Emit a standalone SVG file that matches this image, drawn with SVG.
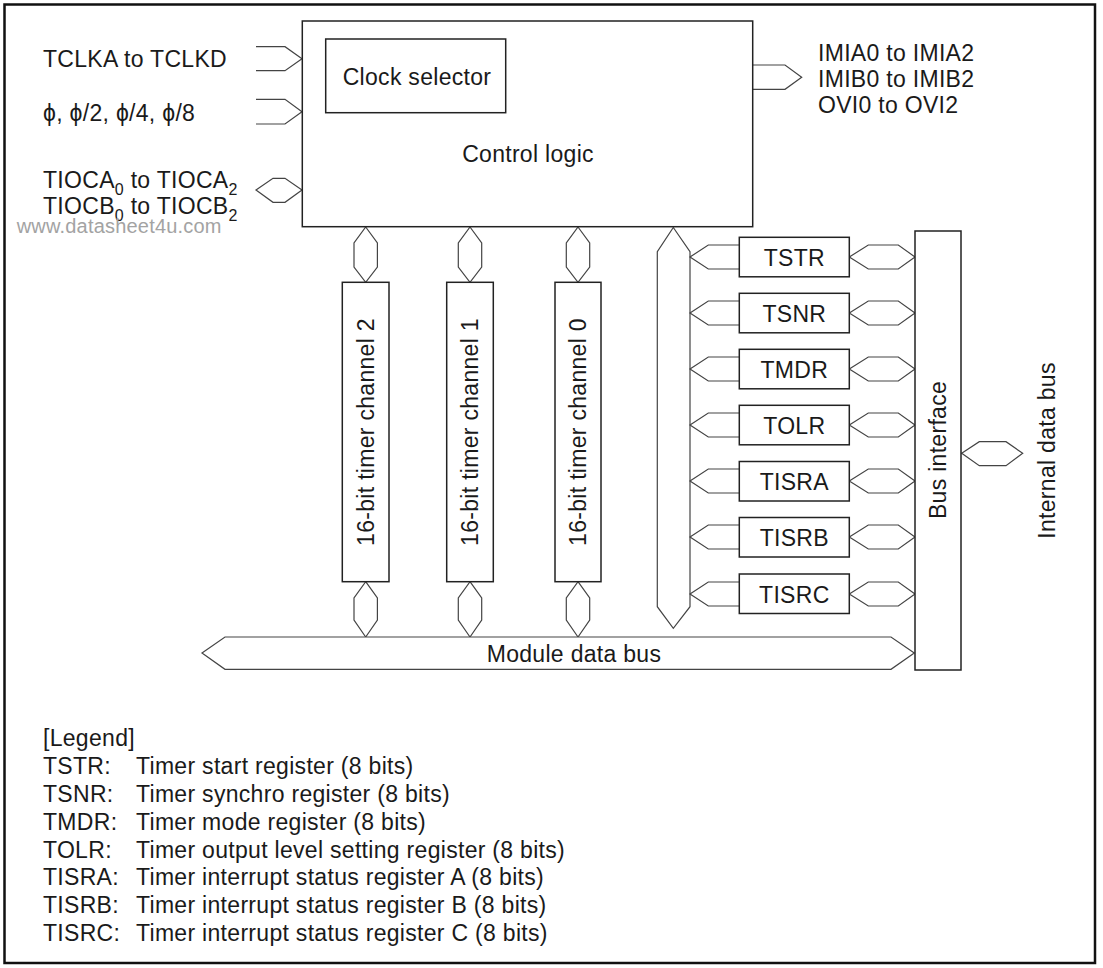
<svg xmlns="http://www.w3.org/2000/svg" width="1103" height="968" viewBox="0 0 1103 968">
<style>
text{font-family:"Liberation Sans",Arial,sans-serif;font-size:23px;fill:#1a1a1a;letter-spacing:0.3px}
.box{fill:#fff;stroke:#222;stroke-width:1.5}
.con{fill:#fff;stroke:#444;stroke-width:1.2;stroke-linejoin:miter}
.open{fill:none;stroke:#444;stroke-width:1.2}
.mid{text-anchor:middle}
.sub{font-size:16px}
.wm{font-size:20px;fill:#a3a3a3;letter-spacing:0.2px}
</style>
<rect x="4.5" y="4.5" width="1090.5" height="958.5" fill="#fff" stroke="#111" stroke-width="2.5"/>

<g id="connectors">
  <polyline class="open" points="256,46.7 285,46.7 302,58.7 285,70.7 256,70.7"/>
  <polyline class="open" points="256,99.3 285,99.3 302,111.7 285,124 256,124"/>
  <polygon class="con" points="256,190 273,178.3 285,178.3 302,190 285,202.3 273,202.3"/>
  <polyline class="open" points="753,65 785,65 801.7,77.3 785,89.3 753,89.3"/>
  <polygon class="con" points="365.7,227 377.4,243 377.4,267 365.7,282.3 354,267 354,243"/>
  <polygon class="con" points="470,227 481.7,243 481.7,267 470,282.3 458.3,267 458.3,243"/>
  <polygon class="con" points="578,227 589.7,243 589.7,267 578,282.3 566.3,267 566.3,243"/>
  <polygon class="con" points="365.7,581.7 377.4,598 377.4,620 365.7,637 354,620 354,598"/>
  <polygon class="con" points="470,581.7 481.7,598 481.7,620 470,637 458.3,620 458.3,598"/>
  <polygon class="con" points="578,581.7 589.7,598 589.7,620 578,637 566.3,620 566.3,598"/>
  <polygon class="con" points="673.3,227.5 690,251.7 690,606.7 673.3,628.3 657.3,606.7 657.3,251.7"/>
  <polyline class="open" points="739,245 708.3,245 690,257 708.3,269 739,269"/>
  <polyline class="open" points="739,301 708.3,301 690,313 708.3,325 739,325"/>
  <polyline class="open" points="739,357 708.3,357 690,369 708.3,381 739,381"/>
  <polyline class="open" points="739,413 708.3,413 690,425 708.3,437 739,437"/>
  <polyline class="open" points="739,469 708.3,469 690,481 708.3,493 739,493"/>
  <polyline class="open" points="739,525 708.3,525 690,537 708.3,549 739,549"/>
  <polyline class="open" points="739,582 708.3,582 690,594 708.3,606 739,606"/>
  <polygon class="con" points="849.3,257 868.3,245 898.3,245 915,257 898.3,269 868.3,269"/>
  <polygon class="con" points="849.3,313 868.3,301 898.3,301 915,313 898.3,325 868.3,325"/>
  <polygon class="con" points="849.3,369 868.3,357 898.3,357 915,369 898.3,381 868.3,381"/>
  <polygon class="con" points="849.3,425 868.3,413 898.3,413 915,425 898.3,437 868.3,437"/>
  <polygon class="con" points="849.3,481 868.3,469 898.3,469 915,481 898.3,493 868.3,493"/>
  <polygon class="con" points="849.3,537 868.3,525 898.3,525 915,537 898.3,549 868.3,549"/>
  <polygon class="con" points="849.3,594 868.3,582 898.3,582 915,594 898.3,606 868.3,606"/>
  <polygon class="con" points="961.7,453.3 979.3,441.7 1006,441.7 1022.7,453.3 1006,465.7 979.3,465.7"/>
</g>

<g id="module-data-bus">
  <polygon class="con" points="202,653 225,637 891,637 914.3,653 891,669.3 225,669.3"/>
  <text class="mid" x="574" y="662">Module data bus</text>
</g>

<g id="control-logic">
  <rect class="box" x="302.3" y="21" width="450.4" height="205.7"/>
  <text class="mid" x="528" y="161.7">Control logic</text>
</g>
<g id="clock-selector">
  <rect class="box" x="325.7" y="39" width="180" height="73.7"/>
  <text class="mid" x="417" y="85">Clock selector</text>
</g>

<g id="channel2">
  <rect class="box" x="342.3" y="282.3" width="46.7" height="299.4"/>
  <text class="mid" transform="translate(365.7,432) rotate(-90)" x="0" y="8">16-bit timer channel 2</text>
</g>
<g id="channel1">
  <rect class="box" x="446.7" y="282.3" width="46.6" height="299.4"/>
  <text class="mid" transform="translate(470,432) rotate(-90)" x="0" y="8">16-bit timer channel 1</text>
</g>
<g id="channel0">
  <rect class="box" x="555" y="282.3" width="46" height="299.4"/>
  <text class="mid" transform="translate(578,432) rotate(-90)" x="0" y="8">16-bit timer channel 0</text>
</g>

<g id="TSTR"><rect class="box" x="739.3" y="237.3" width="110" height="39.5"/><text class="mid" x="794.3" y="266">TSTR</text></g>
<g id="TSNR"><rect class="box" x="739.3" y="293.3" width="110" height="39.5"/><text class="mid" x="794.3" y="322">TSNR</text></g>
<g id="TMDR"><rect class="box" x="739.3" y="349.3" width="110" height="39.5"/><text class="mid" x="794.3" y="378">TMDR</text></g>
<g id="TOLR"><rect class="box" x="739.3" y="405.3" width="110" height="39.5"/><text class="mid" x="794.3" y="434">TOLR</text></g>
<g id="TISRA"><rect class="box" x="739.3" y="461.5" width="110" height="39.5"/><text class="mid" x="794.3" y="490">TISRA</text></g>
<g id="TISRB"><rect class="box" x="739.3" y="517.5" width="110" height="39.5"/><text class="mid" x="794.3" y="546">TISRB</text></g>
<g id="TISRC"><rect class="box" x="739.3" y="574" width="110" height="39.5"/><text class="mid" x="794.3" y="603">TISRC</text></g>

<g id="bus-interface">
  <rect class="box" x="915" y="231" width="46" height="439"/>
  <text class="mid" transform="translate(938,450) rotate(-90)" x="0" y="8">Bus interface</text>
</g>

<g id="internal-data-bus-label">
  <text class="mid" transform="translate(1046.7,450.5) rotate(-90)" x="0" y="8">Internal data bus</text>
</g>

<g id="inputs">
  <text x="43" y="66.7">TCLKA to TCLKD</text>
  <text x="43" y="121">ϕ, ϕ/2, ϕ/4, ϕ/8</text>
  <text x="43" y="188.3">TIOCA<tspan class="sub" dy="7">0</tspan><tspan dy="-7"> to TIOCA</tspan><tspan class="sub" dy="7">2</tspan></text>
  <text x="43" y="214">TIOCB<tspan class="sub" dy="7">0</tspan><tspan dy="-7"> to TIOCB</tspan><tspan class="sub" dy="7">2</tspan></text>
  <text class="wm" x="16.7" y="232.5">www.datasheet4u.com</text>
</g>

<g id="outputs">
  <text x="818" y="61">IMIA0 to IMIA2</text>
  <text x="818" y="87">IMIB0 to IMIB2</text>
  <text x="818" y="113">OVI0 to OVI2</text>
</g>

<g id="legend">
  <text x="43" y="746">[Legend]</text>
  <text x="43" y="774">TSTR:</text><text x="136" y="774">Timer start register (8 bits)</text>
  <text x="43" y="802">TSNR:</text><text x="136" y="802">Timer synchro register (8 bits)</text>
  <text x="43" y="830">TMDR:</text><text x="136" y="830">Timer mode register (8 bits)</text>
  <text x="43" y="858">TOLR:</text><text x="136" y="858">Timer output level setting register (8 bits)</text>
  <text x="43" y="885">TISRA:</text><text x="136" y="885">Timer interrupt status register A (8 bits)</text>
  <text x="43" y="913">TISRB:</text><text x="136" y="913">Timer interrupt status register B (8 bits)</text>
  <text x="43" y="941">TISRC:</text><text x="136" y="941">Timer interrupt status register C (8 bits)</text>
</g>
</svg>
